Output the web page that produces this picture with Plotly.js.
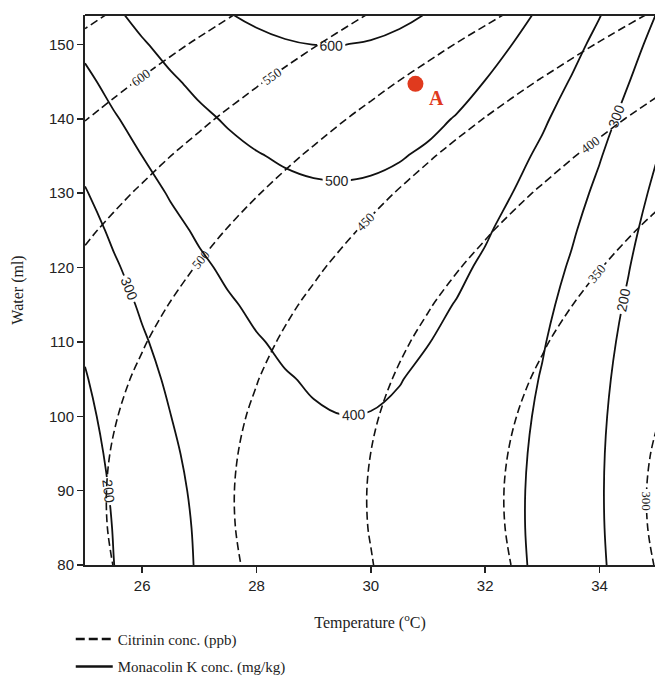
<!DOCTYPE html>
<html>
<head>
<meta charset="utf-8">
<script src="https://cdn.plot.ly/plotly-3.0.1.min.js"></script>
<style>html,body{margin:0;padding:0;background:#fff;}#chart{width:655px;height:677px;}</style>
</head>
<body>
<div id="chart"></div>
<script>
// Grids of temperature (°C) and water (ml) at which surface values were read
const temperature = [25, 26, 27, 28, 29, 30, 31, 32, 33, 34, 35];
const temperatureMK = [25, 25.5, 26, 26.5, 27, 27.5, 28, 28.5, 29, 29.5, 30,
                       30.5, 31, 31.5, 32, 32.5, 33, 33.5, 34, 34.5, 35];
const water = [80, 85, 90, 95, 100, 105, 110, 115, 120, 125, 130, 135, 140, 145, 150, 155];

// Citrinin concentration (ppb), rows = water, cols = temperature
const citrinin = [
  [511.0, 488.4, 466.0, 444.0, 422.4, 401.0, 380.0, 359.2, 338.8, 318.8, 299.0],
  [508.9, 486.2, 463.9, 441.9, 420.2, 398.9, 377.8, 357.1, 336.7, 316.6, 296.9],
  [508.5, 485.9, 463.5, 441.5, 419.9, 398.5, 377.5, 356.7, 336.3, 316.3, 296.5],
  [509.9, 487.2, 464.9, 442.9, 421.2, 399.9, 378.8, 358.1, 337.7, 317.6, 297.9],
  [513.0, 490.4, 468.0, 446.0, 424.4, 403.0, 382.0, 361.2, 340.8, 320.8, 301.0],
  [517.9, 495.2, 472.9, 450.9, 429.2, 407.9, 386.8, 366.1, 345.7, 325.6, 305.9],
  [524.5, 501.9, 479.5, 457.5, 435.9, 414.5, 393.5, 372.7, 352.3, 332.3, 312.5],
  [532.9, 510.2, 487.9, 465.9, 444.2, 422.9, 401.8, 381.1, 360.7, 340.6, 320.9],
  [543.0, 520.4, 498.0, 476.0, 454.4, 433.0, 412.0, 391.2, 370.8, 350.8, 331.0],
  [554.9, 532.2, 509.9, 487.9, 466.2, 444.9, 423.8, 403.1, 382.7, 362.6, 342.9],
  [568.5, 545.9, 523.5, 501.5, 479.9, 458.5, 437.5, 416.7, 396.3, 376.3, 356.5],
  [583.9, 561.2, 538.9, 516.9, 495.2, 473.9, 452.8, 432.1, 411.7, 391.6, 371.9],
  [601.0, 578.4, 556.0, 534.0, 512.4, 491.0, 470.0, 449.2, 428.8, 408.8, 389.0],
  [619.9, 597.2, 574.9, 552.9, 531.2, 509.9, 488.8, 468.1, 447.7, 427.6, 407.9],
  [640.5, 617.9, 595.5, 573.5, 551.9, 530.5, 509.5, 488.7, 468.3, 448.3, 428.5],
  [662.9, 640.2, 617.9, 595.9, 574.2, 552.9, 531.8, 511.1, 490.7, 470.6, 450.9]
];

// Monacolin K concentration (mg/kg), rows = water, cols = temperatureMK
const monacolinK = [
  [153.4, 199.1, 239.8, 275.5, 306.2, 331.9, 352.6, 368.3, 379.0, 384.7, 385.4, 381.1, 371.8, 357.5, 338.2, 313.9, 284.6, 250.3, 211.0, 166.7, 117.4],
  [157.0, 202.4, 242.7, 278.0, 308.3, 333.6, 354.0, 369.3, 379.6, 384.9, 385.2, 380.6, 370.9, 356.2, 336.5, 311.8, 282.2, 247.5, 207.8, 163.1, 113.4],
  [163.0, 207.9, 247.9, 282.8, 312.7, 337.7, 357.6, 372.6, 382.5, 387.4, 387.4, 382.3, 372.3, 357.2, 337.1, 312.1, 282.0, 247.0, 206.9, 161.9, 111.8],
  [171.3, 215.9, 255.4, 290.0, 319.5, 344.1, 363.7, 378.2, 387.8, 392.3, 391.9, 386.5, 376.0, 360.6, 340.1, 314.7, 284.3, 248.8, 208.4, 162.9, 112.5],
  [181.9, 226.1, 265.3, 299.5, 328.6, 352.8, 372.0, 386.2, 395.4, 399.6, 398.7, 392.9, 382.1, 366.3, 345.4, 319.6, 288.8, 253.0, 212.2, 166.4, 115.5],
  [194.9, 238.7, 277.5, 311.3, 340.1, 363.9, 382.7, 396.5, 405.3, 409.1, 407.9, 401.7, 390.5, 374.3, 353.1, 326.9, 295.7, 259.5, 218.3, 172.1, 120.9],
  [210.3, 253.7, 292.1, 325.5, 353.9, 377.4, 395.8, 409.2, 417.6, 421.0, 419.5, 412.9, 401.3, 384.7, 363.1, 336.6, 305.0, 268.4, 226.8, 180.2, 128.7],
  [227.9, 271.0, 309.0, 342.1, 370.1, 393.1, 411.2, 424.2, 432.3, 435.3, 433.3, 426.4, 414.4, 397.5, 375.5, 348.5, 316.6, 279.6, 237.7, 190.7, 138.7],
  [248.0, 290.6, 328.3, 361.0, 388.6, 411.3, 428.9, 441.6, 449.2, 451.9, 449.6, 442.2, 429.9, 412.6, 390.2, 362.9, 330.5, 293.2, 250.8, 203.5, 151.2],
  [270.4, 312.6, 349.9, 382.2, 409.5, 431.8, 449.0, 461.3, 468.6, 470.9, 468.2, 460.4, 447.7, 430.0, 407.3, 379.6, 346.8, 309.1, 266.4, 218.7, 166.0],
  [295.1, 337.0, 373.9, 405.8, 432.7, 454.6, 471.5, 483.4, 490.3, 492.2, 489.1, 481.0, 467.9, 449.8, 426.7, 398.6, 365.5, 327.4, 284.3, 236.2, 183.1],
  [322.1, 363.7, 400.2, 431.7, 458.2, 479.7, 496.3, 507.8, 514.3, 515.8, 512.3, 503.9, 490.4, 471.9, 448.4, 419.9, 386.5, 348.0, 304.5, 256.0, 202.5],
  [351.5, 392.7, 428.8, 460.0, 486.1, 507.3, 523.4, 534.5, 540.7, 541.8, 537.9, 529.1, 515.2, 496.4, 472.5, 443.7, 409.8, 370.9, 327.1, 278.2, 224.4],
  [383.3, 424.1, 459.8, 490.6, 516.4, 537.1, 552.9, 563.6, 569.4, 570.2, 565.9, 556.7, 542.4, 523.2, 499.0, 469.7, 435.5, 396.2, 352.0, 302.8, 248.5],
  [417.4, 457.8, 493.2, 523.6, 548.9, 569.3, 584.7, 595.1, 600.5, 600.8, 596.2, 586.6, 572.0, 552.4, 527.7, 498.1, 463.5, 423.9, 379.3, 329.6, 275.0],
  [453.9, 493.9, 528.9, 558.9, 583.9, 603.9, 618.9, 628.9, 633.9, 633.9, 628.9, 618.9, 603.9, 583.9, 558.9, 528.9, 493.9, 453.9, 408.9, 358.9, 303.9]
];

// Contour levels
const citrininLevels = {start: 300, end: 650, size: 50};
const monacolinLevels = {start: 200, end: 600, size: 100};

// Optimum point A
const pointLabel = ['A'];
const pointT = [30.78];
const pointW = [144.7];

// Axis ticks
const xTicks = [26, 28, 30, 32, 34];
const yTicks = [80, 90, 100, 110, 120, 130, 140, 150];

const serif = 'Liberation Serif, Times New Roman, serif';
const sans = 'Liberation Sans, Arial, sans-serif';

const traces = [
  {
    type: 'contour', x: temperature, y: water, z: citrinin,
    name: 'Citrinin conc. (ppb)', showlegend: false, showscale: false, hoverinfo: 'skip',
    contours: Object.assign({coloring: 'none', showlabels: true,
      labelfont: {family: serif, size: 13, color: '#222'}}, citrininLevels),
    line: {color: '#111', width: 1.6, dash: '8px,4px', smoothing: 1}
  },
  {
    type: 'contour', x: temperatureMK, y: water, z: monacolinK,
    name: 'Monacolin K conc. (mg/kg)', showlegend: false, showscale: false, hoverinfo: 'skip',
    contours: Object.assign({coloring: 'none', showlabels: true,
      labelfont: {family: sans, size: 14, color: '#222'}}, monacolinLevels),
    line: {color: '#111', width: 1.8, smoothing: 1}
  },
  {
    type: 'scatter', mode: 'markers', x: pointT, y: pointW, showlegend: false,
    marker: {size: 16, color: '#e03a1e'}, hoverinfo: 'skip'
  },
  {
    type: 'scatter', mode: 'lines', x: [null], y: [null], name: 'Citrinin conc. (ppb)',
    line: {color: '#111', width: 2.4, dash: '9px,4px'}, legendgroup: 'a'
  },
  {
    type: 'scatter', mode: 'lines', x: [null], y: [null], name: 'Monacolin K conc. (mg/kg)',
    line: {color: '#111', width: 2.4}, legendgroup: 'b'
  }
];

const layout = {
  width: 655, height: 677,
  margin: {l: 85, r: 0, t: 15, b: 112, autoexpand: false},
  paper_bgcolor: '#fff', plot_bgcolor: '#fff',
  showlegend: true,
  legend: {x: -0.025, xanchor: 'left', y: -0.105, yanchor: 'top', orientation: 'v',
    font: {family: serif, size: 15, color: '#222'}, bgcolor: 'rgba(0,0,0,0)',
    tracegroupgap: 5, itemwidth: 37},
  xaxis: {
    range: [25, 34.97], tickvals: xTicks, ticks: 'outside', ticklen: 6, tickwidth: 1.5,
    tickcolor: '#222', showline: true, linewidth: 2, linecolor: '#222',
    showgrid: false, zeroline: false,
    tickfont: {family: sans, size: 15, color: '#222'},
    title: {text: 'Temperature (<sup>o</sup>C)', font: {family: serif, size: 16, color: '#222'}, standoff: 24}
  },
  yaxis: {
    range: [80, 153.95], tickvals: yTicks, ticks: 'outside', ticklen: 6, tickwidth: 1.5,
    tickcolor: '#222', showline: true, linewidth: 2, linecolor: '#222',
    showgrid: false, zeroline: false,
    tickfont: {family: sans, size: 15, color: '#222'},
    title: {text: 'Water (ml)', font: {family: serif, size: 16, color: '#222'}, standoff: 21}
  },
  shapes: [
    {type: 'line', xref: 'paper', yref: 'paper', x0: 0, x1: 1, y0: 1, y1: 1,
      line: {color: '#222', width: 2}}
  ],
  annotations: [
    {x: pointT[0], y: pointW[0], xref: 'x', yref: 'y', text: '<b>' + pointLabel[0] + '</b>',
      showarrow: false, xshift: 21, yshift: -14,
      font: {family: serif, size: 20, color: '#e03a1e'}}
  ]
};

Plotly.newPlot('chart', traces, layout, {displayModeBar: false, staticPlot: true});
</script>
</body>
</html>
